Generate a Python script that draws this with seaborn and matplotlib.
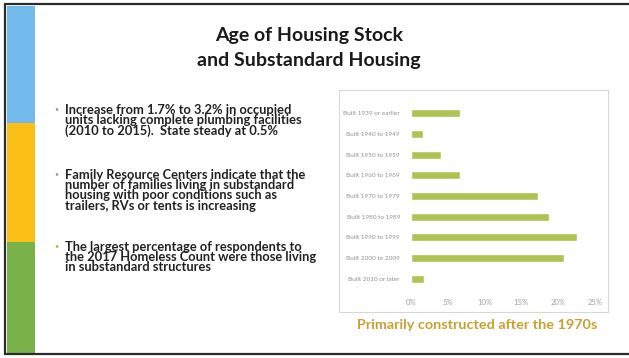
import matplotlib
matplotlib.use("Agg")
import matplotlib.pyplot as plt
from matplotlib.patches import Rectangle
from matplotlib.lines import Line2D
import seaborn as sns
import pandas as pd

# Year-built categories (top to bottom) and share of housing units (%)
categories = [
    "Built 1939 or earlier",
    "Built 1940 to 1949",
    "Built 1950 to 1959",
    "Built 1960 to 1969",
    "Built 1970 to 1979",
    "Built 1980 to 1989",
    "Built 1990 to 1999",
    "Built 2000 to 2009",
    "Built 2010 or later",
]
shares = [6.7, 1.6, 4.1, 6.7, 17.3, 18.8, 22.6, 20.8, 1.8]
tick_values = [0, 5, 10, 15, 20, 25]
tick_labels = ["0%", "5%", "10%", "15%", "20%", "25%"]

title_lines = ["Age of Housing Stock", "and Substandard Housing"]
bullets = [
    ["Increase from 1.7% to 3.2% in occupied",
     "units lacking complete plumbing facilities",
     "(2010 to 2015).  State steady at 0.5%"],
    ["Family Resource Centers indicate that the",
     "number of families living in substandard",
     "housing with poor conditions such as",
     "trailers, RVs or tents is increasing"],
    ["The largest percentage of respondents to",
     "the 2017 Homeless Count were those living",
     "in substandard structures"],
]
caption = "Primarily constructed after the 1970s"

W, H = 629, 358
sns.set_theme(style="white")
plt.rcParams["font.family"] = ["Lato", "DejaVu Sans"]

fig = plt.figure(figsize=(W / 100, H / 100), dpi=100)
fig.patch.set_facecolor("white")


def fx(x):
    return x / W


def fy(y):
    return 1 - y / H


# slide frame
for (x0, y0, x1, y1) in [(5, 4, 629, 4), (5, 4, 5, 354), (5, 354, 629, 354)]:
    fig.add_artist(Line2D([fx(x0), fx(x1)], [fy(y0), fy(y1)], color="#2b2b2b",
                          lw=1.6, transform=fig.transFigure))

# coloured side stripe
for (y0, y1, c) in [(6, 123, "#72b9ec"), (123, 242, "#fcbf17"), (242, 353, "#7ab24a")]:
    fig.add_artist(Rectangle((fx(7), fy(y1)), fx(35) - fx(7), (y1 - y0) / H,
                             color=c, transform=fig.transFigure, lw=0))

# title
for line, base in zip(title_lines, [40.5, 66]):
    fig.text(fx(309), fy(base), line, ha="center", va="baseline",
             fontsize=14, fontweight="bold", color="#1a1a1a")

# bullet paragraphs, each drawn as one tightly spaced block
para_tops = [104, 169, 241]
bullet_cols = ["#9a9a9a", "#9a9a9a", "#d9a441"]
for para, top, bc in zip(bullets, para_tops, bullet_cols):
    fig.text(fx(56), fy(top + 5), "•", ha="center", va="center",
             fontsize=5, color=bc)
    fig.text(fx(65), fy(top), "\n".join(para), ha="left", va="top",
             linespacing=0.82, fontsize=9.3, fontweight="bold",
             color="#222222")

# chart box
fig.add_artist(Rectangle((fx(339), fy(312)), fx(608) - fx(339), (312 - 90) / H,
                         fill=False, edgecolor="#d8d8d8", lw=0.8,
                         transform=fig.transFigure))

# bar chart
df = pd.DataFrame({"category": categories, "share": shares})
ax = fig.add_axes([fx(411), fy(289), fx(595) - fx(411), (289 - 103) / H])
sns.barplot(data=df, y="category", x="share", orient="h", color="#aec452",
            width=0.4, ax=ax, saturation=1)
ax.set_xlim(0, 25)
ax.set_xticks(tick_values)
ax.set_xticklabels(tick_labels)
ax.set_xlabel("")
ax.set_ylabel("")
for s in ax.spines.values():
    s.set_visible(False)
ax.tick_params(axis="x", labelsize=5.5, colors="#a0a0a0", length=0, pad=7)
ax.tick_params(axis="y", labelsize=4.6, colors="#909090", length=0, pad=8)
ax.set_facecolor("none")

# caption
fig.text(fx(477), fy(325), caption, ha="center", va="center",
         fontsize=10.4, fontweight="bold", color="#c9a030")

fig.savefig("out.png", dpi=100, facecolor="white")
